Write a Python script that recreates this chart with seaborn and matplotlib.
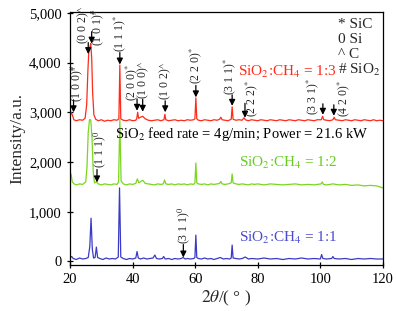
# -*- coding: utf-8 -*-

import matplotlib
matplotlib.use("Agg")
import matplotlib.pyplot as plt
import seaborn as sns
import pandas as pd

# XRD patterns (2theta in degrees, intensity in a.u.)
red_x = [20.0, 20.3, 20.7, 21.2, 22.0, 23.0, 24.0, 24.8, 25.3, 25.7, 26.0, 26.3, 26.6, 26.9,
         27.2, 27.6, 28.2, 29.0, 30.0, 31.0, 32.0, 33.0, 34.0, 35.0, 35.6, 35.9, 36.2, 37.0,
         38.0, 39.0, 40.0, 41.0, 41.3, 41.6, 41.9, 42.5, 43.2, 44.0, 45.0, 46.0, 47.0, 48.0,
         49.0, 50.0, 50.3, 50.6, 51.5, 52.5, 53.5, 54.5, 55.5, 56.5, 57.5, 58.5, 59.5, 59.9,
         60.2, 60.5, 61.0, 62.0, 63.0, 64.0, 65.0, 66.0, 67.0, 67.8, 68.2, 68.6, 69.5, 70.5,
         71.5, 71.8, 72.1, 73.0, 74.0, 75.0, 75.6, 76.0, 77.0, 78.0, 79.0, 80.0, 81.0, 82.0,
         83.0, 84.0, 85.0, 86.0, 87.0, 88.0, 89.0, 90.0, 91.0, 92.0, 93.0, 94.0, 95.0, 96.0,
         97.0, 98.0, 99.0, 100.3, 100.7, 101.1, 102.0, 103.0, 104.0, 104.4, 104.8, 106.0,
         107.0, 108.0, 109.0, 110.0, 111.0, 112.0, 113.0, 114.0, 115.0, 116.0, 117.0, 118.0,
         119.0, 120.0]
red_y = [2900, 3000, 2950, 2850, 2830, 2850, 2840, 2880, 3150, 3850, 4250, 4300, 4380, 4100,
         3400, 2950, 2860, 2830, 2850, 2820, 2840, 2830, 2850, 2840, 2870, 3950, 2870, 2840,
         2830, 2850, 2830, 2840, 2870, 3000, 2880, 2900, 2920, 2870, 2840, 2830, 2840, 2850,
         2830, 2850, 2960, 2850, 2830, 2840, 2850, 2830, 2840, 2830, 2850, 2840, 2850, 2870,
         3290, 2870, 2840, 2830, 2850, 2840, 2830, 2850, 2840, 2860, 2900, 2850, 2840, 2830,
         2860, 3110, 2860, 2840, 2850, 2840, 2890, 2850, 2830, 2850, 2840, 2830, 2850, 2840,
         2830, 2850, 2840, 2830, 2850, 2840, 2830, 2850, 2840, 2830, 2850, 2840, 2830, 2850,
         2840, 2830, 2850, 2850, 2920, 2850, 2840, 2830, 2850, 2900, 2850, 2840, 2830, 2850,
         2840, 2830, 2850, 2840, 2830, 2850, 2840, 2830, 2850, 2830, 2840, 2830]

green_x = [20.0, 20.3, 20.7, 21.3, 22.0, 23.0, 24.0, 25.0, 25.4, 25.8, 26.2, 26.6, 27.0, 27.4,
           27.8, 28.4, 29.0, 30.0, 31.0, 32.0, 33.0, 34.0, 35.0, 35.5, 35.9, 36.3, 37.0, 38.0,
           39.0, 40.0, 41.0, 41.5, 42.0, 42.8, 43.3, 44.0, 45.0, 46.0, 47.0, 48.0, 49.0, 49.8,
           50.2, 50.6, 51.5, 52.5, 53.5, 54.5, 55.5, 56.5, 57.5, 58.5, 59.5, 59.9, 60.2, 60.5,
           61.0, 62.0, 63.0, 64.0, 65.0, 66.0, 67.0, 67.8, 68.2, 68.6, 69.5, 70.5, 71.5, 71.8,
           72.1, 73.0, 74.0, 75.0, 76.0, 77.0, 78.0, 79.0, 80.0, 82.0, 84.0, 86.0, 88.0, 90.0,
           92.0, 94.0, 96.0, 98.0, 100.2, 100.6, 101.0, 102.0, 104.0, 106.0, 108.0, 110.0,
           112.0, 114.0, 116.0, 118.0, 119.0, 120.0]
green_y = [1600, 1760, 1600, 1560, 1540, 1560, 1550, 1600, 1900, 2600, 2850, 2850, 2500, 1800,
           1580, 1600, 1560, 1540, 1560, 1550, 1540, 1560, 1550, 1600, 2850, 1620, 1560, 1540,
           1560, 1550, 1570, 1660, 1580, 1620, 1630, 1570, 1560, 1550, 1540, 1560, 1550, 1560,
           1640, 1560, 1550, 1560, 1540, 1560, 1550, 1560, 1540, 1560, 1550, 1580, 1980, 1580,
           1560, 1550, 1560, 1540, 1560, 1550, 1560, 1570, 1610, 1560, 1550, 1560, 1580, 1760,
           1580, 1560, 1550, 1560, 1550, 1540, 1560, 1550, 1560, 1540, 1560, 1550, 1540, 1550,
           1560, 1540, 1550, 1540, 1560, 1600, 1550, 1540, 1560, 1540, 1550, 1530, 1540, 1520,
           1530, 1520, 1500, 1480]

blue_x = [20.0, 20.5, 21.0, 22.0, 23.0, 24.0, 25.0, 25.8, 26.3, 26.7, 27.1, 27.5, 28.0, 28.4,
          28.8, 29.5, 30.5, 31.5, 32.5, 33.5, 34.5, 35.4, 35.8, 36.2, 37.0, 38.0, 39.0, 40.0,
          41.0, 41.4, 41.8, 42.5, 43.5, 44.5, 45.5, 46.5, 47.1, 47.6, 48.5, 49.5, 49.9, 50.4,
          51.5, 52.5, 53.5, 54.5, 55.5, 56.1, 56.8, 57.5, 58.5, 59.5, 59.9, 60.2, 60.5, 61.0,
          62.0, 63.0, 64.0, 65.0, 66.0, 67.0, 68.0, 69.0, 70.0, 71.0, 71.5, 71.8, 72.1, 73.0,
          74.0, 75.0, 76.0, 77.0, 78.0, 80.0, 82.0, 84.0, 86.0, 88.0, 90.0, 92.0, 94.0, 96.0,
          98.0, 100.0, 100.4, 100.8, 102.0, 103.6, 104.0, 104.4, 106.0, 108.0, 110.0, 112.0,
          114.0, 116.0, 118.0, 120.0]
blue_y = [80, 100, 60, 40, 70, 50, 60, 80, 300, 870, 250, 70, 80, 290,
          80, 60, 40, 70, 50, 60, 50, 90, 1480, 90, 60, 40, 60, 50,
          70, 200, 70, 50, 70, 50, 60, 70, 130, 60, 50, 60, 100, 50,
          60, 40, 60, 50, 60, 80, 50, 60, 50, 60, 80, 530, 80, 60,
          50, 70, 50, 60, 40, 60, 80, 50, 60, 50, 70, 330, 70, 60,
          50, 60, 90, 50, 60, 50, 70, 50, 60, 40, 60, 50, 70, 50,
          60, 50, 140, 60, 50, 60, 100, 60, 50, 60, 40, 60, 50, 60, 50, 50]

series_names = ['SiO2:CH4 = 1:1', 'SiO2:CH4 = 1:2', 'SiO2:CH4 = 1:3']
series_colors = ['#3a3ac4', '#7ad61e', '#ff2a1a']

# peak labels: (text, arrow x, arrow tip, arrow tail, label x, label bottom)
peak_labels = [
    (r'(1 0 0)$^{\#}$', 21.1, 3000, 3250, 22.0, 3200),
    (r'(0 0 2)$^{\wedge}$', 25.8, 4170, 4400, 24.2, 4370),
    (r'(1 0 1)$^{\#}$', 26.9, 4380, 4620, 28.8, 4330),
    (r'(1 1 1)$^{*}$', 35.9, 3960, 4200, 35.9, 4220),
    (r'(2 0 0)$^{*}$', 41.4, 3030, 3270, 39.7, 3220),
    (r'(1 0 0)$^{\wedge}$', 43.2, 3010, 3260, 43.3, 3260),
    (r'(1 0 2)$^{\wedge}$', 50.4, 3000, 3230, 50.5, 3250),
    (r'(2 2 0)$^{*}$', 60.2, 3300, 3540, 60.2, 3560),
    (r'(3 1 1)$^{*}$', 71.8, 3130, 3350, 71.0, 3340),
    (r'(2 2 2)$^{*}$', 75.9, 2890, 3180, 78.0, 2900),
    (r'(3 3 1)$^{*}$', 100.8, 2950, 3170, 97.6, 2950),
    (r'(4 2 0)$^{*}$', 104.3, 2930, 3150, 107.5, 2900),
    (r'(1 1 1)$^{0}$', 28.6, 1590, 1850, 29.4, 1870),
    (r'(3 1 1)$^{0}$', 56.2, 80, 340, 56.2, 350),
]

phase_keys = ['* SiC', '0 Si', '^ C', r'# SiO$_2$']

frames = []
for name, xs, ys in zip(series_names, [blue_x, green_x, red_x], [blue_y, green_y, red_y]):
    frames.append(pd.DataFrame({'2theta': xs, 'Intensity': ys, 'Sample': name}))
df = pd.concat(frames, ignore_index=True)

sns.set_style("ticks")
plt.rcParams['font.family'] = ['Liberation Serif', 'DejaVu Serif']
plt.rcParams['mathtext.fontset'] = 'stix'

fig = plt.figure(figsize=(3.96, 3.11), dpi=100)
ax = fig.add_axes([0.177, 0.148, 0.790, 0.814])

sns.lineplot(data=df, x='2theta', y='Intensity', hue='Sample', hue_order=series_names,
             palette=series_colors, estimator=None, legend=False, linewidth=0.9, ax=ax)

for text, ax_x, tip, tail, lx, ly in peak_labels:
    ax.annotate('', xy=(ax_x, tip), xytext=(ax_x, tail),
                arrowprops=dict(arrowstyle='-|>', color='black', lw=0.9,
                                mutation_scale=9, shrinkA=0, shrinkB=0))
    ax.text(lx, ly, text, rotation=90, ha='center', va='bottom', fontsize=8.5)

ax.text(89.5, 3820, r'SiO$_2$:CH$_4$ = 1:3', color='#ff2a1a', fontsize=11,
        ha='center', va='center')
ax.text(74.7, 2560, r'SiO$_2$ feed rate = 4g/min; Power = 21.6 kW', color='black',
        fontsize=10.5, ha='center', va='center')
ax.text(89.8, 1980, r'SiO$_2$:CH$_4$ = 1:2', color='#66cc22', fontsize=11,
        ha='center', va='center')
ax.text(89.8, 480, r'SiO$_2$:CH$_4$ = 1:1', color='#4a4ad0', fontsize=11,
        ha='center', va='center')

for i, key in enumerate(phase_keys):
    ax.text(0.855, 0.975 - i * 0.058, key, transform=ax.transAxes, fontsize=11,
            ha='left', va='top')

ax.set_xlim(20, 120)
ax.set_ylim(-70, 5020)
ax.set_xticks([20, 40, 60, 80, 100, 120])
ax.set_yticks([0, 1000, 2000, 3000, 4000, 5000])
ax.set_yticklabels(['{:,}'.format(v) for v in [0, 1000, 2000, 3000, 4000, 5000]])
ax.tick_params(direction='inout', length=5, width=0.9, labelsize=10.5, colors='black')
for s in ax.spines.values():
    s.set_color('black')
    s.set_linewidth(0.9)

ax.set_xlabel(r'$2\theta$/( ° )', fontsize=12.5, labelpad=2)
ax.set_ylabel('Intensity/a.u.', fontsize=12.5, labelpad=3)

fig.savefig('out.png', dpi=100)
